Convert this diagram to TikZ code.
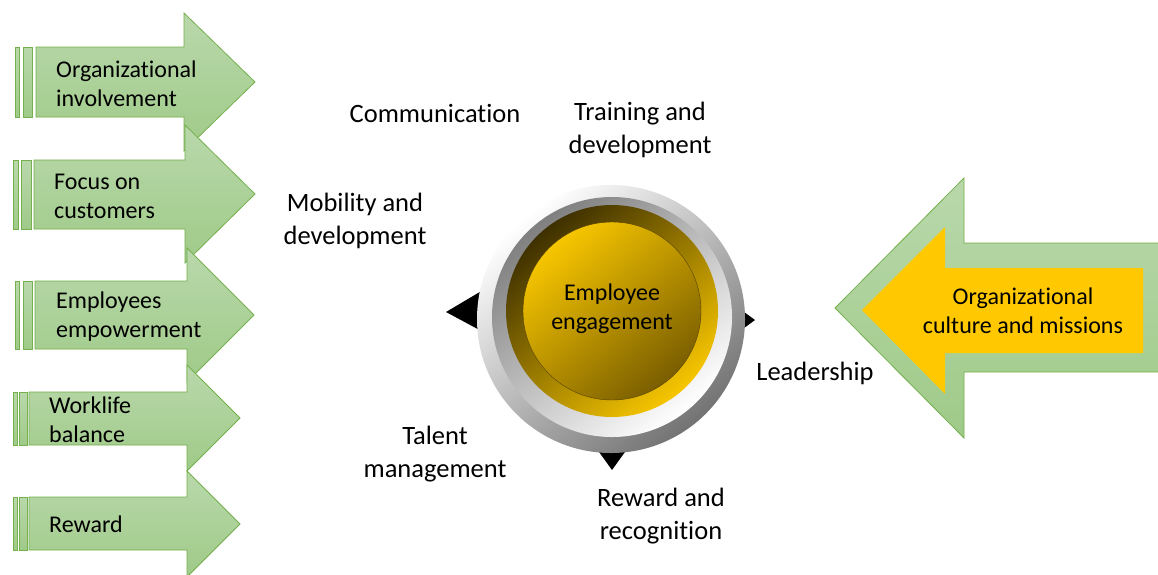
\documentclass[tikz,border=0pt]{standalone}
\usepackage{fontspec}
\setmainfont[Ligatures=NoCommon]{Carlito}
\definecolor{greentop}{HTML}{B9D8AB}
\definecolor{greenbot}{HTML}{9FCA88}
\definecolor{greenline}{HTML}{74B04C}
\definecolor{gold}{HTML}{FFC800}
\definecolor{goldA}{HTML}{F7C600}
\definecolor{goldDark}{HTML}{7A5E00}
\definecolor{brownDark}{HTML}{3E3000}
\begin{document}
\begin{tikzpicture}[x=1pt,y=-1pt,
  garrow/.style={draw=greenline, line width=0.8pt, top color=greentop, bottom color=greenbot},
  gbar/.style={draw=greenline, line width=0.6pt, top color=greentop, bottom color=greenbot},
  arrtxt/.style={font=\fontsize{24}{29}\selectfont, align=left, inner sep=0pt, anchor=west},
  lbl/.style={font=\fontsize{26.5}{33}\selectfont, align=center, inner sep=0pt},
  ctxt/.style={font=\fontsize{24}{29}\selectfont, align=center, inner sep=0pt},
  tri/.style={fill=black, draw=none}]
\useasboundingbox (0,0) rectangle (1158,574);
\fill[white] (0,0) rectangle (1158,574);

% ---------- left arrows ----------
% arrow 1
\path[garrow] (36,47) -- (184,47) -- (184,13) -- (255,82) -- (184,151) -- (184,117) -- (36,117) -- cycle;
\path[gbar] (15,47) rectangle (19,117);
\path[gbar] (23,47) rectangle (32,117);
% arrow 2
\path[garrow] (34,160) -- (185,160) -- (185,125) -- (255,194) -- (185,263) -- (185,229) -- (34,229) -- cycle;
\path[gbar] (13,160) rectangle (18,229);
\path[gbar] (21,160) rectangle (31,229);
% arrow 3
\path[garrow] (35,281) -- (187,281) -- (187,248) -- (254,315) -- (187,382) -- (187,349) -- (35,349) -- cycle;
\path[gbar] (15,281) rectangle (19,349);
\path[gbar] (23,281) rectangle (32,349);
% arrow 4
\path[garrow] (29,392) -- (187,392) -- (187,365) -- (240,418) -- (187,471) -- (187,445) -- (29,445) -- cycle;
\path[gbar] (13,392) rectangle (17,445);
\path[gbar] (19,392) rectangle (27,445);
% arrow 5
\path[garrow] (29,497) -- (187,497) -- (187,471) -- (240,524) -- (187,577) -- (187,550) -- (29,550) -- cycle;
\path[gbar] (13,497) rectangle (17,550);
\path[gbar] (19,497) rectangle (27,550);

\node[arrtxt] (t1) at (56,84) {Organizational\\involvement};
\node[arrtxt] (t2) at (54,196) {Focus on\\customers};
\node[arrtxt] (t3) at (56,317) {Employees\\empowerment};
\node[arrtxt] (t4) at (49,420) {Worklife\\balance};
\node[arrtxt] (t5) at (49,524) {Reward};

% ---------- right arrow ----------
\path[garrow] (1160,243) -- (964,243) -- (964,178) -- (835,308) -- (964,438) -- (964,372) -- (1160,372);
\fill[gold] (1143,268) -- (945,268) -- (945,227) -- (862,310) -- (945,394) -- (945,353) -- (1143,353) -- cycle;
\node[ctxt] (culture) at (1023,311) {Organizational\\culture and missions};

% ---------- center ----------
\path[tri] (446,312) -- (500,280) -- (500,341) -- cycle;
\path[tri] (612,470) -- (594,445) -- (630,445) -- cycle;
\path[tri] (755,320) -- (740,309) -- (740,331) -- cycle;

\shade[top color=white, bottom color=black!55, shading angle=40] (611,319) circle[radius=134];
\shade[top color=black!50, bottom color=white, shading angle=40] (612,317) circle[radius=120];
\shade[top color=brownDark, bottom color=goldA, shading angle=40] (612,311) circle[radius=106];
\shade[top color=goldA, bottom color=goldDark, shading angle=40, draw=goldDark!70!black, line width=0.4pt] (612,311) circle[radius=89];
\node[ctxt] (eng) at (612,309) {Employee\\engagement};

% ---------- labels ----------
\node[lbl] (comm) at (435,113) {Communication};
\node[lbl] (train) at (640,130) {Training and\\development};
\node[lbl] (mob) at (355,221) {Mobility and\\development};
\node[lbl] (lead) at (815,373) {Leadership};
\node[lbl] (talent) at (435,454) {Talent\\management};
\node[lbl] (rew) at (661,516) {Reward and\\recognition};
\end{tikzpicture}
\end{document}
